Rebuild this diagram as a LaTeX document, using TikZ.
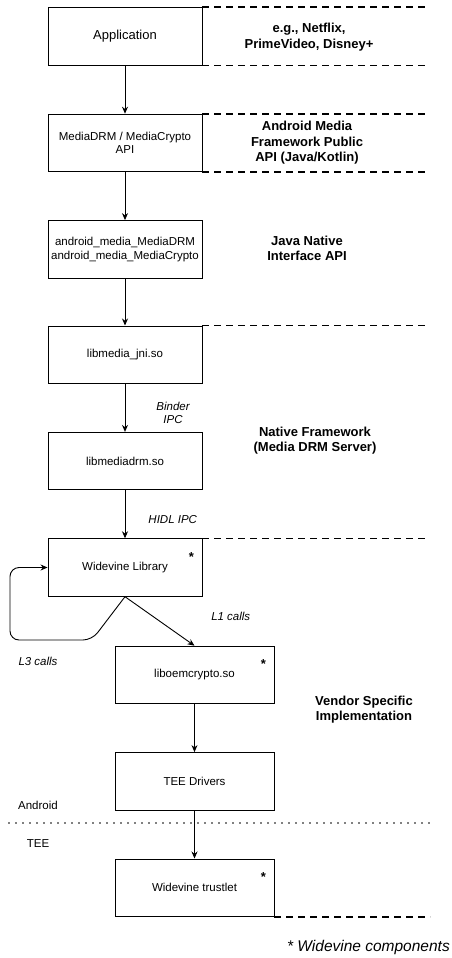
\documentclass[tikz,border=0pt]{standalone}
\usepackage{fontspec}
\setmainfont{Liberation Sans}
\usetikzlibrary{positioning}
\usetikzlibrary{arrows.meta}

\begin{document}
\begin{tikzpicture}[x=1pt,y=-1pt,node distance=48pt,
  layer/.style={draw,line width=0.9pt,minimum width=154pt,minimum height=57.5pt,align=center,inner sep=1pt,font=\fontsize{11.5}{13.5}\selectfont},
  tag/.style={font=\fontsize{13}{15.5}\selectfont\bfseries,align=center,inner sep=0pt},
  call/.style={font=\fontsize{11.5}{12.5}\selectfont\itshape,align=center,inner sep=0pt},
  star/.style={font=\fontsize{13}{13}\selectfont\bfseries,inner sep=0pt,anchor=base},
  sep/.style={line width=1.6pt,dash pattern=on 7pt off 5pt}]
\useasboundingbox (0,0) rectangle (451,958);

\node[layer,font=\fontsize{13}{15}\selectfont] (app) at (125,36.5) {Application};
\node[layer,below=of app] (api) {MediaDRM / MediaCrypto\\API};
\node[layer,below=of api] (jni) {android\_media\_MediaDRM\\android\_media\_MediaCrypto};
\node[layer,below=47pt of jni] (libjni) {libmedia\_jni.so};
\node[layer,below=of libjni] (libdrm) {libmediadrm.so};
\node[layer,below=of libdrm] (wvlib) {Widevine Library};
\node[layer,minimum width=159pt,below=49pt of wvlib,xshift=69.5pt] (oem) {liboemcrypto.so};
\node[layer,minimum width=159pt,below=of oem] (tee) {TEE Drivers};
\node[layer,minimum width=159pt,below=of tee] (trustlet) {Widevine trustlet};

\node[star] (wvstar) at ([shift={(-11,23)}]wvlib.north east) {*};
\node[star] (oemstar) at ([shift={(-11,23)}]oem.north east) {*};
\node[star] (tlstar) at ([shift={(-11,23)}]trustlet.north east) {*};

\path[-{Stealth[length=7pt,width=6pt]},line width=0.9pt]
  (app) edge (api)
  (api) edge (jni)
  (jni) edge (libjni)
  (libjni) edge node[call,pos=0.6,right=31pt] {Binder\\IPC} (libdrm)
  (libdrm) edge node[call,pos=0.6,right=23pt] {HIDL IPC} (wvlib)
  (wvlib.south) edge node[call,pos=0.4,right=58pt] {L1 calls} (oem.north)
  (oem) edge (tee)
  (tee) edge (trustlet);

% L3 loop back into the library
\coordinate (l3turn) at (92,640);
\coordinate (l3back) at (10,640);
\draw[-{Stealth[length=7pt,width=6pt]},line width=0.9pt,rounded corners=9pt]
  (wvlib.south) -- (l3turn) -- (l3back) -- (l3back |- wvlib.west) -- (wvlib.west);
\node[call] (l3) at (38,661) {L3 calls};

% layer separators
\draw[sep] (app.north east) -- ++(224,0);
\draw[sep] (app.south east) -- ++(224,0);
\draw[sep] (api.north east) -- ++(224,0);
\draw[sep] (api.south east) -- ++(224,0);
\draw[sep] (libjni.north east) -- ++(224,0);
\draw[sep] (wvlib.north east) -- ++(224,0);
\draw[sep] (trustlet.south east) -- ++(156,0);
\draw[line width=1.8pt,line cap=round,dash pattern=on 0pt off 7pt] (9,823) -- (432,823);

\node[tag] (apps) at (309,37) {e.g., Netflix,\\PrimeVideo, Disney+};
\node[tag] (pubapi) at (307,143) {Android Media\\Framework Public\\API (Java/Kotlin)};
\node[tag] (jniapi) at (307,248.5) {Java Native\\Interface API};
\node[tag] (native) at (315,440.5) {Native Framework\\(Media DRM Server)};
\node[tag] (vendor) at (364,709.5) {Vendor Specific\\Implementation};

\node[font=\fontsize{11.5}{13}\selectfont] (android) at (38,805) {Android};
\node[font=\fontsize{11.5}{13}\selectfont] (teeside) at (38,844) {TEE};

\node[font=\fontsize{15.5}{16}\selectfont\itshape,anchor=east,inner sep=0pt] (legend) at (450,947) {* Widevine components};
\end{tikzpicture}
\end{document}
